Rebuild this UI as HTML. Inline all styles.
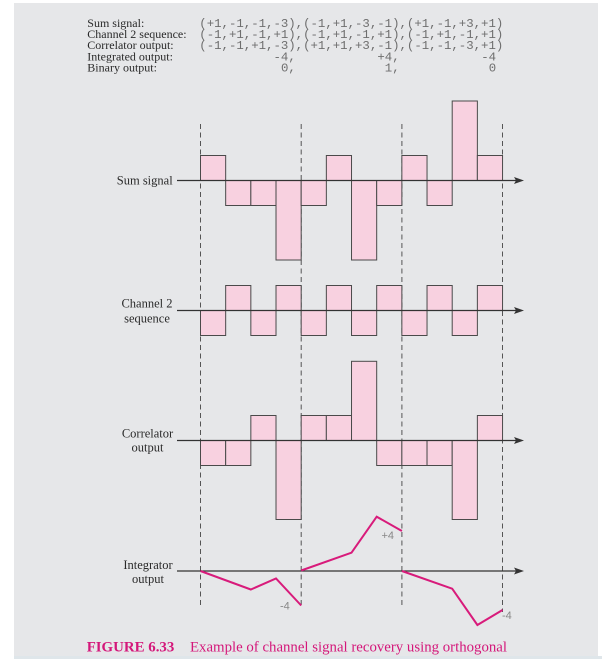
<!DOCTYPE html>
<html>
<head>
<meta charset="utf-8">
<style>
html,body{margin:0;padding:0;background:#fff;}
svg{display:block;}
</style>
</head>
<body>
<svg width="602" height="659" viewBox="0 0 602 659" xmlns="http://www.w3.org/2000/svg">
  <rect x="0" y="0" width="602" height="659" fill="#ffffff"/>
  <rect x="14" y="3" width="584" height="653" fill="#e6e7e9"/>
  <rect x="14" y="656" width="588" height="3" fill="#dfe6ea"/>

  <!-- Header -->
  <g font-family="'Liberation Serif', serif" font-size="12" fill="#2a2a2a">
    <text x="87.3" y="27">Sum signal:</text>
    <text x="87.3" y="38.1">Channel 2 sequence:</text>
    <text x="87.3" y="49.2">Correlator output:</text>
    <text x="87.3" y="60.3">Integrated output:</text>
    <text x="87.3" y="71.4">Binary output:</text>
  </g>
  <g font-family="'Liberation Mono', monospace" font-size="12.36" fill="#6e6e6e" xml:space="preserve">
    <text x="199.3" y="27" textLength="304" lengthAdjust="spacingAndGlyphs">(+1,-1,-1,-3),(-1,+1,-3,-1),(+1,-1,+3,+1)</text>
    <text x="199.3" y="38.1" textLength="304" lengthAdjust="spacingAndGlyphs">(-1,+1,-1,+1),(-1,+1,-1,+1),(-1,+1,-1,+1)</text>
    <text x="199.3" y="49.2" textLength="304" lengthAdjust="spacingAndGlyphs">(-1,-1,+1,-3),(+1,+1,+3,-1),(-1,-1,-3,+1)</text>
    <text x="273.5" y="60.3">-4,</text>
    <text x="377.4" y="60.3">+4,</text>
    <text x="481.2" y="60.3">-4</text>
    <text x="281" y="71.4">0,</text>
    <text x="384.8" y="71.4">1,</text>
    <text x="488.7" y="71.4">0</text>
  </g>

  <!-- Dashed verticals -->
  <g stroke="#555" stroke-width="1" stroke-dasharray="5 3.5" fill="none">
    <line x1="200.5" y1="124" x2="200.5" y2="607"/>
    <line x1="301.2" y1="124" x2="301.2" y2="607"/>
    <line x1="401.9" y1="124" x2="401.9" y2="607"/>
    <line x1="502.5" y1="124" x2="502.5" y2="612"/>
  </g>

  <!-- Sum signal bars (axis 180.5) -->
  <g fill="#f8d1e0" stroke="#4a4a4a" stroke-width="1">
    <rect x="200.5" y="155.5" width="25.17" height="25"/>
    <rect x="225.67" y="180.5" width="25.17" height="25"/>
    <rect x="250.84" y="180.5" width="25.17" height="25"/>
    <rect x="276.01" y="180.5" width="25.17" height="79.5"/>
    <rect x="301.18" y="180.5" width="25.17" height="25"/>
    <rect x="326.35" y="155.5" width="25.17" height="25"/>
    <rect x="351.52" y="180.5" width="25.17" height="79.5"/>
    <rect x="376.69" y="180.5" width="25.17" height="25"/>
    <rect x="401.86" y="155.5" width="25.17" height="25"/>
    <rect x="427.03" y="180.5" width="25.17" height="25"/>
    <rect x="452.2" y="101" width="25.17" height="79.5"/>
    <rect x="477.37" y="155.5" width="25.17" height="25"/>
  </g>

  <!-- Channel 2 bars (axis 310.5) -->
  <g fill="#f8d1e0" stroke="#4a4a4a" stroke-width="1">
    <rect x="200.5" y="310.5" width="25.17" height="25"/>
    <rect x="225.67" y="285.5" width="25.17" height="25"/>
    <rect x="250.84" y="310.5" width="25.17" height="25"/>
    <rect x="276.01" y="285.5" width="25.17" height="25"/>
    <rect x="301.18" y="310.5" width="25.17" height="25"/>
    <rect x="326.35" y="285.5" width="25.17" height="25"/>
    <rect x="351.52" y="310.5" width="25.17" height="25"/>
    <rect x="376.69" y="285.5" width="25.17" height="25"/>
    <rect x="401.86" y="310.5" width="25.17" height="25"/>
    <rect x="427.03" y="285.5" width="25.17" height="25"/>
    <rect x="452.2" y="310.5" width="25.17" height="25"/>
    <rect x="477.37" y="285.5" width="25.17" height="25"/>
  </g>

  <!-- Correlator bars (axis 440.5) -->
  <g fill="#f8d1e0" stroke="#4a4a4a" stroke-width="1">
    <rect x="200.5" y="440.5" width="25.17" height="25"/>
    <rect x="225.67" y="440.5" width="25.17" height="25"/>
    <rect x="250.84" y="415.5" width="25.17" height="25"/>
    <rect x="276.01" y="440.5" width="25.17" height="79"/>
    <rect x="301.18" y="415.5" width="25.17" height="25"/>
    <rect x="326.35" y="415.5" width="25.17" height="25"/>
    <rect x="351.52" y="361.3" width="25.17" height="79.2"/>
    <rect x="376.69" y="440.5" width="25.17" height="25"/>
    <rect x="401.86" y="440.5" width="25.17" height="25"/>
    <rect x="427.03" y="440.5" width="25.17" height="25"/>
    <rect x="452.2" y="440.5" width="25.17" height="79"/>
    <rect x="477.37" y="415.5" width="25.17" height="25"/>
  </g>

  <!-- Axes -->
  <g stroke="#333" stroke-width="1.3">
    <line x1="177" y1="180.5" x2="517" y2="180.5"/>
    <line x1="177" y1="310.5" x2="517" y2="310.5"/>
    <line x1="177" y1="440.5" x2="517" y2="440.5"/>
    <line x1="177" y1="571" x2="517" y2="571"/>
  </g>
  <g fill="#333">
    <polygon points="524,180.5 514,177 516,180.5 514,184"/>
    <polygon points="524,310.5 514,307 516,310.5 514,314"/>
    <polygon points="524,440.5 514,437 516,440.5 514,444"/>
    <polygon points="524,571 514,567.5 516,571 514,574.5"/>
  </g>

  <!-- Integrator -->
  <g stroke="#d81b7b" stroke-width="2" fill="none" stroke-linejoin="miter">
    <polyline points="200.5,571 250.8,589.5 276,578.5 301.2,605.5"/>
    <polyline points="301.2,570.5 351.5,552.7 376.7,516.7 401.9,531"/>
    <polyline points="401.9,571 452.2,588.7 477.4,625 502.5,610"/>
  </g>
  <g font-family="'Liberation Sans', sans-serif" font-size="11" fill="#888">
    <text x="280" y="609.5">-4</text>
    <text x="381.5" y="539">+4</text>
    <text x="502" y="619">-4</text>
  </g>

  <!-- Row labels -->
  <g font-family="'Liberation Serif', serif" font-size="12.5" fill="#2a2a2a">
    <text x="172.7" y="184.3" text-anchor="end">Sum signal</text>
    <text x="147" y="307.3" text-anchor="middle">Channel 2</text>
    <text x="147" y="322.5" text-anchor="middle">sequence</text>
    <text x="147.5" y="437.5" text-anchor="middle">Correlator</text>
    <text x="147.5" y="451.5" text-anchor="middle">output</text>
    <text x="148" y="569" text-anchor="middle">Integrator</text>
    <text x="148" y="583" text-anchor="middle">output</text>
  </g>

  <!-- Caption -->
  <text x="86.7" y="651.7" font-family="'Liberation Serif', serif" font-size="15" font-weight="bold" fill="#d4177a" textLength="87.6" lengthAdjust="spacingAndGlyphs">FIGURE 6.33</text>
  <text x="190" y="651.7" font-family="'Liberation Serif', serif" font-size="15" fill="#d4177a" textLength="317" lengthAdjust="spacingAndGlyphs">Example of channel signal recovery using orthogonal</text>
</svg>
</body>
</html>
